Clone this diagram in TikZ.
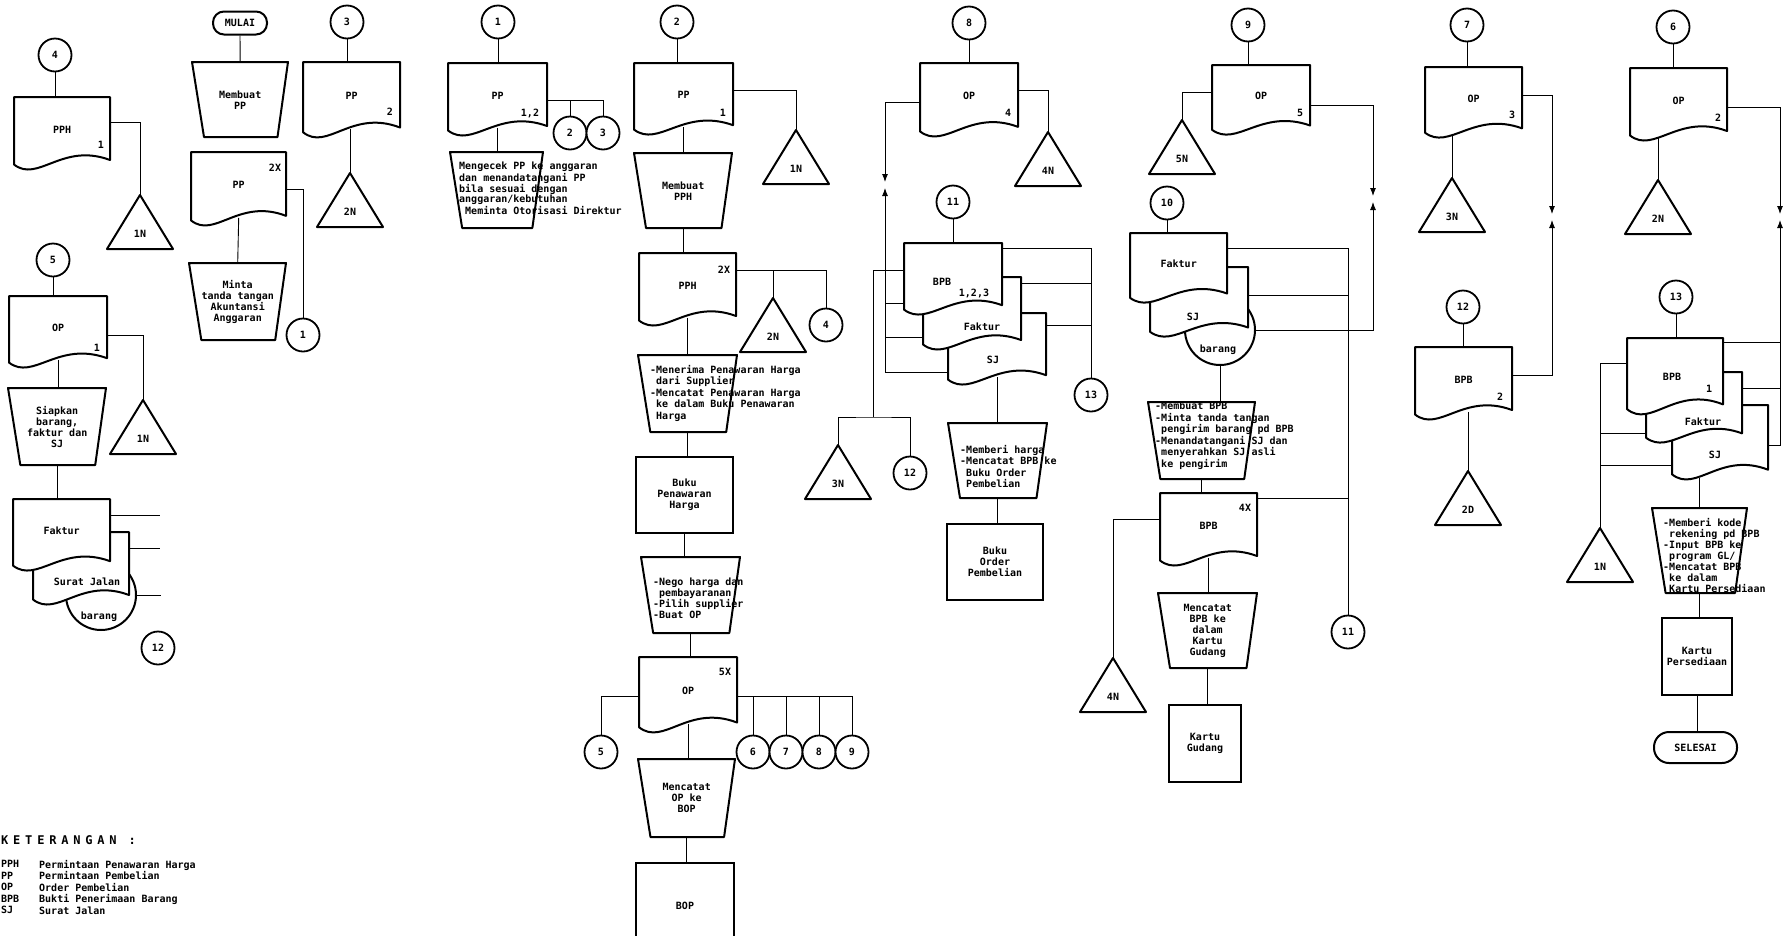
\documentclass[tikz,border=0pt]{standalone}
\usepackage{fontspec}
\setmonofont{DejaVu Sans Mono}
\newfontfamily\jarang[LetterSpace=40]{DejaVu Sans Mono}
\usetikzlibrary{arrows.meta, calc, backgrounds}

\tikzset{
    bentuk/.style={draw, line width=2pt, fill=white, line join=round},
    isi/.style={inner sep=0pt, align=center, font=\ttfamily\bfseries\fontsize{10}{11}\selectfont},
    kiri/.style={isi, align=left, anchor=north west, font=\ttfamily\bfseries\fontsize{10}{11.5}\selectfont},
    lingkar/.style={circle, draw, line width=1.8pt, fill=white, minimum size=33pt, inner sep=0pt, font=\ttfamily\bfseries\fontsize{10}{10}\selectfont},
    bulat/.style={circle, draw, line width=2pt, fill=white, minimum size=70pt, inner sep=0pt},
    terminal/.style={rectangle, rounded corners=11pt, draw, line width=2pt, fill=white, minimum width=54pt, minimum height=23pt, inner sep=0pt, font=\ttfamily\bfseries\fontsize{10}{10}\selectfont},
    buku/.style={rectangle, draw, line width=2pt, fill=white, inner sep=0pt, align=center, font=\ttfamily\bfseries\fontsize{10}{11}\selectfont},
    garis/.style={line width=0.9pt},
    panah/.style={garis, -{Latex[length=8pt,width=6pt]}}
}
\newcommand{\indn}{\hphantom{-}}
% dokumen: nama, x kiri, y atas, lebar, tinggi, teks
\newcommand{\dok}[6]{%
  \draw[bentuk] (#2,#3) -- ({#2+#4},#3) -- ({#2+#4},{#3+0.84*#5})
    .. controls ({#2+0.5*#4},{#3+0.6*#5}) and ({#2+0.25*#4},{#3+1.15*#5})
    .. (#2,{#3+0.9*#5}) -- cycle;
  \node[isi, minimum width={#4*1pt}, minimum height={0.86*#5*1pt}, anchor=north west] (#1) at (#2,#3) {#6};
}
% operasi manual: nama, x kiri, y atas, lebar, tinggi, teks
\newcommand{\operasi}[6]{%
  \draw[bentuk] (#2,#3) -- ({#2+#4},#3) -- ({#2+#4-0.14*#5},{#3+#5})
    -- ({#2+0.16*#5},{#3+#5}) -- cycle;
  \node[isi, minimum width={#4*1pt}, minimum height={#5*1pt}, anchor=north west] (#1) at (#2,#3) {#6};
}
% arsip: nama, x puncak, y puncak, teks
\newcommand{\arsip}[4]{%
  \draw[bentuk] (#2,#3) -- ({#2+33},{#3+54}) -- ({#2-33},{#3+54}) -- cycle;
  \node[inner sep=0pt, minimum width=66pt, minimum height=54pt, anchor=north] (#1) at (#2,#3) {};
  \node[isi] (#1-t) at (#2,{#3+39}) {#4};
}

\begin{document}
\begin{tikzpicture}[x=1pt, y=-1pt]
\useasboundingbox (0,0) rectangle (1786,935);

% kolom 1
\node[lingkar] (c4) at (55,55) {4};
\dok{pph1}{14}{97}{96}{75}{PPH}
\node[isi] (pph1-n) at (101,145) {1};
\arsip{ar1}{140}{195}{1N}
\node[lingkar] (c5) at (53,260) {5};
\dok{opA}{9}{296}{98}{74}{OP}
\node[isi] (opA-n) at (97,348) {1};
\arsip{ar2}{143}{400}{1N}
\operasi{siap}{8}{388}{98}{77}{Siapkan\\barang,\\faktur dan\\SJ}
\node[bulat] (barA) at (101,595) {};
\dok{sjA}{33}{532}{96}{75}{}
\dok{fakA}{13}{499}{97}{74}{Faktur}
\node[isi] (sjA-t) at (87,582) {Surat Jalan};
\node[isi] (barA-t) at (99,617) {barang};
\node[lingkar] (c12a) at (158,648) {12};

% kolom 2
\node[terminal] (mulai) at (240,23) {MULAI};
\operasi{mbpp}{192}{62}{96}{75}{Membuat\\PP}
\dok{pp2x}{191}{152}{95}{76}{PP}
\node[isi] (pp2x-n) at (275,168) {2X};
\operasi{minta}{189}{263}{97}{77}{Minta\\tanda tangan\\Akuntansi\\Anggaran}
\node[lingkar] (c1a) at (303,335) {1};

% kolom 3
\node[lingkar] (c3) at (347,22) {3};
\dok{pp2}{303}{62}{97}{78}{PP}
\node[isi] (pp2-n) at (390,112) {2};
\arsip{ar3}{350}{173}{2N}

% kolom 4
\node[lingkar] (c1) at (498,22) {1};
\dok{pp12}{448}{63}{99}{75}{PP}
\node[isi] (pp12-n) at (530,113) {1,2};
\node[lingkar] (c2a) at (570,133) {2};
\node[lingkar] (c3a) at (603,133) {3};
\operasi{cek}{450}{152}{93}{76}{}
\node[kiri, font=\ttfamily\bfseries\fontsize{10}{9.5}\selectfont] (cek-t) at (459,162) {Mengecek PP ke anggaran\\dan menandatangani PP\\bila sesuai dengan\\anggaran/kebutuhan\\\indn Meminta Otorisasi Direktur};

% kolom 5
\node[lingkar] (c2) at (677,22) {2};
\dok{pp1}{634}{63}{99}{74}{PP}
\node[isi] (pp1-n) at (723,113) {1};
\arsip{ar4}{796}{130}{1N}
\operasi{mbpph}{634}{153}{98}{75}{Membuat\\PPH}
\dok{pph2x}{639}{253}{97}{75}{PPH}
\node[isi] (pph2x-n) at (724,270) {2X};
\arsip{ar5}{773}{298}{2N}
\node[lingkar] (c4a) at (826,325) {4};
\operasi{terima}{638}{355}{99}{77}{}
\node[kiri] (terima-t) at (650,365) {-Menerima Penawaran Harga\\\indn dari Supplier\\-Mencatat Penawaran Harga\\\indn ke dalam Buku Penawaran\\\indn Harga};
\node[buku, minimum width=97pt, minimum height=76pt] (bph) at (684.5,495) {Buku\\Penawaran\\Harga};
\operasi{nego}{641}{557}{99}{76}{}
\node[kiri, font=\ttfamily\bfseries\fontsize{10}{11}\selectfont] (nego-t) at (653,578) {-Nego harga dan\\\indn pembayaranan\\-Pilih supplier\\-Buat OP};
\dok{op5x}{639}{657}{98}{78}{OP}
\node[isi] (op5x-n) at (725,672) {5X};
\node[lingkar] (c5a) at (601,752) {5};
\node[lingkar] (c6) at (753,752) {6};
\node[lingkar] (c7) at (786,752) {7};
\node[lingkar] (c8) at (819,752) {8};
\node[lingkar] (c9) at (852,752) {9};
\operasi{catat}{638}{759}{97}{78}{Mencatat\\OP ke\\BOP}
\node[buku, minimum width=98pt, minimum height=85pt, anchor=north] (bop) at (685,862) {BOP};

% kolom 6
\node[lingkar] (c8a) at (969,23) {8};
\dok{op4}{920}{63}{98}{76}{OP}
\node[isi] (op4-n) at (1008,113) {4};
\arsip{ar6}{1048}{132}{4N}
\node[lingkar] (c11) at (953,202) {11};
\dok{sjB}{948}{313}{98}{74}{}
\dok{fakB}{923}{277}{98}{75}{}
\dok{bpbB}{904}{243}{98}{74}{}
\node[isi] (bpbB-t) at (942,282) {BPB};
\node[isi] (bpbB-n) at (974,293) {1,2,3};
\node[isi] (fakB-t) at (982,327) {Faktur};
\node[isi] (sjB-t) at (993,360) {SJ};
\node[lingkar] (c13) at (1091,395) {13};
\arsip{ar7}{838}{445}{3N}
\node[lingkar] (c12) at (910,473) {12};
\operasi{beri}{948}{423}{99}{75}{}
\node[kiri] (beri-t) at (960,445) {-Memberi harga\\-Mencatat BPB ke\\\indn Buku Order\\\indn Pembelian};
\node[buku, minimum width=96pt, minimum height=76pt] (bop2) at (995,562) {Buku\\Order\\Pembelian};

% kolom 7
\node[lingkar] (c9a) at (1248,25) {9};
\dok{op5}{1212}{65}{98}{72}{OP}
\node[isi] (op5-n) at (1300,113) {5};
\arsip{ar8}{1182}{120}{5N}
\node[lingkar] (c10) at (1167,203) {10};
\node[bulat] (barB) at (1220,330) {};
\dok{sjC}{1150}{267}{98}{72}{}
\dok{fakC}{1130}{233}{97}{72}{Faktur}
\node[isi] (sjC-t) at (1193,317) {SJ};
\node[isi] (barB-t) at (1218,350) {barang};
\operasi{buat}{1148}{402}{107}{77}{}
\node[kiri] (buat-t) at (1155,402) {-Membuat BPB\\-Minta tanda tangan\\\indn pengirim barang pd BPB\\-Menandatangani SJ dan\\\indn menyerahkan SJ asli\\\indn ke pengirim};
\dok{bpb4x}{1160}{493}{97}{75}{BPB}
\node[isi] (bpb4x-n) at (1245,508) {4X};
\arsip{ar9}{1113}{658}{4N}
\operasi{catat2}{1158}{593}{99}{75}{Mencatat\\BPB ke\\dalam\\Kartu\\Gudang}
\node[buku, minimum width=72pt, minimum height=77pt] (kg) at (1205,743.5) {Kartu\\Gudang};
\node[lingkar] (c11a) at (1348,632) {11};

% kolom 8
\node[lingkar] (c7a) at (1467,25) {7};
\dok{op3}{1425}{67}{97}{73}{OP}
\node[isi] (op3-n) at (1512,115) {3};
\arsip{ar10}{1452}{178}{3N}
\node[lingkar] (c12b) at (1463,307) {12};
\dok{bpb2}{1415}{347}{97}{75}{BPB}
\node[isi] (bpb2-n) at (1500,397) {2};
\arsip{ar11}{1468}{471}{2D}

% kolom 9
\node[lingkar] (c6a) at (1673,27) {6};
\dok{op2}{1630}{68}{97}{75}{OP}
\node[isi] (op2-n) at (1718,118) {2};
\arsip{ar12}{1658}{180}{2N}
\node[lingkar] (c13a) at (1676,297) {13};
\dok{sjD}{1672}{405}{96}{77}{}
\dok{fakD}{1646}{372}{96}{73}{}
\dok{bpbD}{1627}{338}{96}{79}{}
\node[isi] (bpbD-t) at (1672,377) {BPB};
\node[isi] (bpbD-n) at (1709,389) {1};
\node[isi] (fakD-t) at (1703,422) {Faktur};
\node[isi] (sjD-t) at (1715,455) {SJ};
\arsip{ar13}{1600}{528}{1N}
\operasi{beri2}{1652}{508}{95}{85}{}
\node[kiri, font=\ttfamily\bfseries\fontsize{10}{11}\selectfont] (beri2-t) at (1663,518) {-Memberi kode\\\indn rekening pd BPB\\-Input BPB ke\\\indn program GL/\\-Mencatat BPB\\\indn ke dalam\\\indn Kartu Persediaan};
\node[buku, minimum width=70pt, minimum height=77pt] (kp) at (1697,656.5) {Kartu\\Persediaan};
\node[terminal, minimum width=83pt, minimum height=31pt, rounded corners=15pt] (selesai) at (1695.5,747.5) {SELESAI};

% keterangan
\node[anchor=west, inner sep=0pt, font=\jarang\bfseries\fontsize{12}{12}\selectfont] (ket) at (1,840) {KETERANGAN :};
\node[kiri] (ket-a) at (1,860) {PPH\\PP\\OP\\BPB\\SJ};
\node[kiri] (ket-b) at (39,860) {Permintaan Penawaran Harga\\Permintaan Pembelian\\Order Pembelian\\Bukti Penerimaan Barang\\Surat Jalan};

% garis penghubung
\begin{pgfonlayer}{background}
% kolom 1
\draw[garis] (c4) -- (c4 |- pph1.north);
\coordinate (pph1-k) at ([yshift=-25pt]pph1.north east);
\draw[garis] (pph1-k) -| (ar1.north);
\draw[garis] (c5) -- (c5 |- opA.north);
\coordinate (opA-k) at ([yshift=-39pt]opA.north east);
\draw[garis] (opA-k) -| (ar2.north);
\draw[garis] (opA.south) -- (opA.south |- siap.north);
\draw[garis] (siap.south) -- (siap.south |- fakA.north);
\draw[garis] ([yshift=-16pt]fakA.north east) -- ++(50,0);
\draw[garis] ([yshift=-16pt]sjA.north east) -- ++(31,0);
\draw[garis] (barA.east) -- ++(24,0);
% kolom 2
\draw[garis] (mulai) -- (mbpp);
\draw[garis] (pp2x.south) -- (minta.north);
\coordinate (pp2x-k) at ([yshift=-37pt]pp2x.north east);
\draw[garis] (pp2x-k) -| (c1a.north);
% kolom 3
\draw[garis] (c3) -- (c3 |- pp2.north);
\draw[garis] (pp2.south -| ar3.north) -- (ar3.north);
% kolom 4
\draw[garis] (c1) -- (c1 |- pp12.north);
\coordinate (pp12-k) at ([yshift=-37pt]pp12.north east);
\draw[garis] (pp12-k) -| (c3a.north);
\draw[garis] (c2a.north) -- (c2a.north |- pp12-k);
\draw[garis] (pp12.south) -- (pp12.south |- cek.north);
% kolom 5
\draw[garis] (c2) -- (c2 |- pp1.north);
\coordinate (pp1-k) at ([yshift=-27pt]pp1.north east);
\draw[garis] (pp1-k) -| (ar4.north);
\draw[garis] (pp1.south) -- (pp1.south |- mbpph.north);
\draw[garis] (mbpph.south) -- (mbpph.south |- pph2x.north);
\coordinate (pph2x-k) at ([yshift=-17pt]pph2x.north east);
\draw[garis] (pph2x-k) -| (c4a.north);
\draw[garis] (ar5.north) -- (ar5.north |- pph2x-k);
\draw[garis] (pph2x.south) -- (pph2x.south |- terima.north);
\draw[garis] (terima.south) -- (terima.south |- bph.north);
\draw[garis] (bph.south) -- (bph.south |- nego.north);
\draw[garis] (nego.south) -- (nego.south |- op5x.north);
\coordinate (op5x-k) at ([yshift=-39pt]op5x.north east);
\coordinate (op5x-l) at ([yshift=-39pt]op5x.north west);
\draw[garis] (op5x-l) -| (c5a.north);
\draw[garis] (op5x-k) -| (c9.north);
\foreach \titik in {c6,c7,c8}
  \draw[garis] (\titik.north) -- (\titik.north |- op5x-k);
\draw[garis] (op5x.south) -- (op5x.south |- catat.north);
\draw[garis] (catat.south) -- (catat.south |- bop.north);
% kolom 6
\draw[garis] (c8a) -- (c8a |- op4.north);
\coordinate (op4-k) at ([yshift=-27pt]op4.north east);
\draw[garis] (op4-k) -| (ar6.north);
\coordinate (op4-l) at ([yshift=-39pt]op4.north west);
\coordinate (temu1) at (885,185);
\draw[panah] (op4-l) -| ([yshift=3pt]temu1);
\coordinate (sjB-l) at ([yshift=-59pt]sjB.north west);
\draw[panah] (sjB-l) -| ([yshift=-3pt]temu1);
\draw[garis] ([yshift=-60pt]bpbB.north west) -- ++(-19,0);
\draw[garis] ([yshift=-60pt]fakB.north west) -- ++(-38,0);
\coordinate (bpbB-l) at ([yshift=-27pt]bpbB.north west);
\coordinate (cabang) at (873,417);
\draw[garis] (bpbB-l) -| (cabang);
\draw[garis] (ar7.north) |- (cabang) -| (c12.north);
\draw[garis] (c11) -- (c11 |- bpbB.north);
\coordinate (bpbB-k) at ([yshift=-5pt]bpbB.north east);
\draw[garis] (bpbB-k) -| (c13.north);
\draw[garis] ([yshift=-6pt]fakB.north east) -- ++(70,0);
\draw[garis] ([yshift=-12pt]sjB.north east) -- ++(45,0);
\draw[garis] (sjB.south) -- (sjB.south |- beri.north);
\draw[garis] (beri.south) -- (beri.south |- bop2.north);
% kolom 7
\draw[garis] (c9a) -- (c9a |- op5.north);
\coordinate (op5-l) at ([yshift=-27pt]op5.north west);
\draw[garis] (op5-l) -| (ar8.north);
\coordinate (op5-k) at ([yshift=-40pt]op5.north east);
\coordinate (temu2) at (1373,199);
\draw[panah] (op5-k) -| ([yshift=3pt]temu2);
\draw[panah] (barB.east) -| ([yshift=-3pt]temu2);
\draw[garis] (c10) -- (c10 |- fakC.north);
\coordinate (fakC-k) at ([yshift=-15pt]fakC.north east);
\draw[garis] (fakC-k) -| (c11a.north);
\draw[garis] ([yshift=-28pt]sjC.north east) -- ++(100,0);
\draw[garis] (barB.south) -- (barB.south |- buat.north);
\draw[garis] (buat.south) -- (buat.south |- bpb4x.north);
\draw[garis] ([yshift=-5pt]bpb4x.north east) -- ++(91,0);
\coordinate (bpb4x-l) at ([yshift=-26pt]bpb4x.north west);
\draw[garis] (bpb4x-l) -| (ar9.north);
\draw[garis] (bpb4x.south) -- (bpb4x.south |- catat2.north);
\draw[garis] (catat2.south) -- (catat2.south |- kg.north);
% kolom 8
\draw[garis] (c7a) -- (c7a |- op3.north);
\draw[garis] (op3.south -| ar10.north) -- (ar10.north);
\coordinate (op3-k) at ([yshift=-28pt]op3.north east);
\coordinate (temu3) at (1552,217);
\draw[panah] (op3-k) -| ([yshift=3pt]temu3);
\coordinate (bpb2-k) at ([yshift=-28pt]bpb2.north east);
\draw[panah] (bpb2-k) -| ([yshift=-3pt]temu3);
\draw[garis] (c12b) -- (c12b |- bpb2.north);
\draw[garis] (bpb2.south -| ar11.north) -- (ar11.north);
% kolom 9
\draw[garis] (c6a) -- (c6a |- op2.north);
\draw[garis] (op2.south -| ar12.north) -- (ar12.north);
\coordinate (op2-k) at ([yshift=-39pt]op2.north east);
\coordinate (temu4) at (1780,217);
\draw[panah] (op2-k) -| ([yshift=3pt]temu4);
\coordinate (sjD-k) at ([yshift=-40pt]sjD.north east);
\draw[panah] (sjD-k) -| ([yshift=-3pt]temu4);
\draw[garis] ([yshift=-4pt]bpbD.north east) -- ++(57,0);
\draw[garis] ([yshift=-16pt]fakD.north east) -- ++(38,0);
\draw[garis] (c13a) -- (c13a |- bpbD.north);
\coordinate (bpbD-l) at ([yshift=-25pt]bpbD.north west);
\draw[garis] (bpbD-l) -| (ar13.north);
\draw[garis] ([yshift=-61pt]fakD.north west) -- ++(-46,0);
\draw[garis] ([yshift=-60pt]sjD.north west) -- ++(-72,0);
\draw[garis] (beri2.north) -- ++(0,-30);
\draw[garis] (beri2.south) -- (beri2.south |- kp.north);
\draw[garis] (kp) -- (kp |- selesai.north);
\end{pgfonlayer}
\end{tikzpicture}
\end{document}
